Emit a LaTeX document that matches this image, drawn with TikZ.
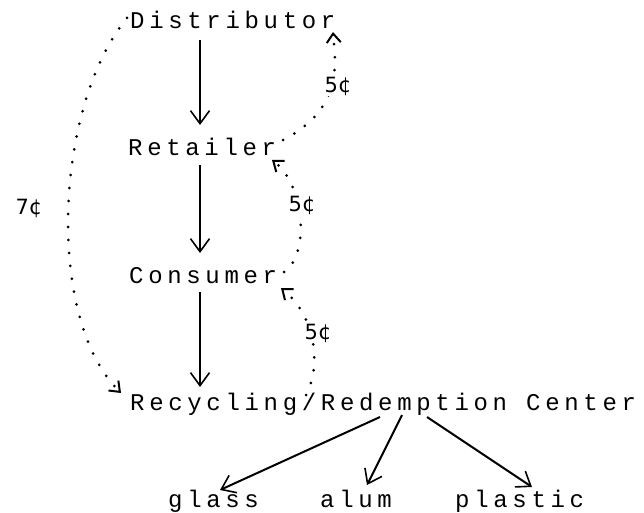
\documentclass[tikz,border=0pt]{standalone}
\usepackage{fontspec}
\usetikzlibrary{arrows.meta,calc}
\newfontfamily\plotfont[LetterSpace=19.5]{Liberation Mono}
\newfontfamily\handfont{DejaVu Sans}
\begin{document}
\begin{tikzpicture}[x=1pt,y=1pt,
  lbl/.style={inner sep=0pt,anchor=base west,font=\plotfont\fontsize{24}{24}\selectfont},
  arr/.style={line width=1.6pt,-{Straight Barb[length=13pt,width=19pt,line width=1.6pt]}},
  darr/.style={line width=3pt,dash pattern=on 0pt off 13pt,line cap=round,
     -{Straight Barb[length=9pt,width=14pt,line width=2pt]}},
  cent/.style={font=\handfont\fontsize{21}{21}\selectfont,fill=white,inner sep=0.5pt}]
\useasboundingbox (0,0) rectangle (644,-513);
\node[lbl] (dist) at (130,-29) {Distributor};
\node[lbl] (ret) at (128,-155) {Retailer};
\node[lbl] (cons) at (129,-283) {Consumer};
\node[lbl] (rec) at (130,-410) {Recycling/Redemption Center};
\node[lbl] (glass) at (168,-507) {glass};
\node[lbl] (alum) at (320,-507) {alum};
\node[lbl] (plastic) at (455,-507) {plastic};
% main flow
\draw[arr] ($(dist.base west)+(70,-11)$) -- ($(ret.base west)+(72,30)$);
\draw[arr] ($(ret.base west)+(72,-10)$) -- ($(cons.base west)+(71,30)$);
\draw[arr] ($(cons.base west)+(71,-9)$) -- ($(rec.base west)+(70,23)$);
% sorting
\draw[arr,line width=2pt] ($(rec.base west)+(250,-7)$) -- ($(glass.base west)+(52,17)$);
\draw[arr,line width=2pt] ($(rec.base west)+(272,-5)$) -- ($(alum.base west)+(47,22)$);
\draw[arr,line width=2pt] ($(rec.base west)+(297,-7)$) -- ($(plastic.base west)+(77,20)$);
% deposit returns
\draw[darr] ($(dist.base west)+(-3,11)$) .. controls +(-72,-87) and +(-76,75) .. ($(rec.base west)+(-9,17)$);
\draw[darr] ($(rec.base west)+(176,15)$) .. controls +(16,30) and +(34,-27) .. ($(cons.base west)+(152,-5)$);
\draw[darr] ($(cons.base west)+(155,11)$) .. controls +(26,17) and +(33,-25) .. ($(ret.base west)+(144,-5)$);
\draw[darr] ($(ret.base west)+(155,15)$) .. controls +(62,32) and +(2,-28) .. ($(dist.base west)+(203,-3)$);
\node[cent] (l7) at (29,-208) {7¢};
\node[cent] (l5a) at (318,-333) {5¢};
\node[cent] (l5b) at (302,-205) {5¢};
\node[cent] (l5c) at (338,-86) {5¢};
\end{tikzpicture}
\end{document}
